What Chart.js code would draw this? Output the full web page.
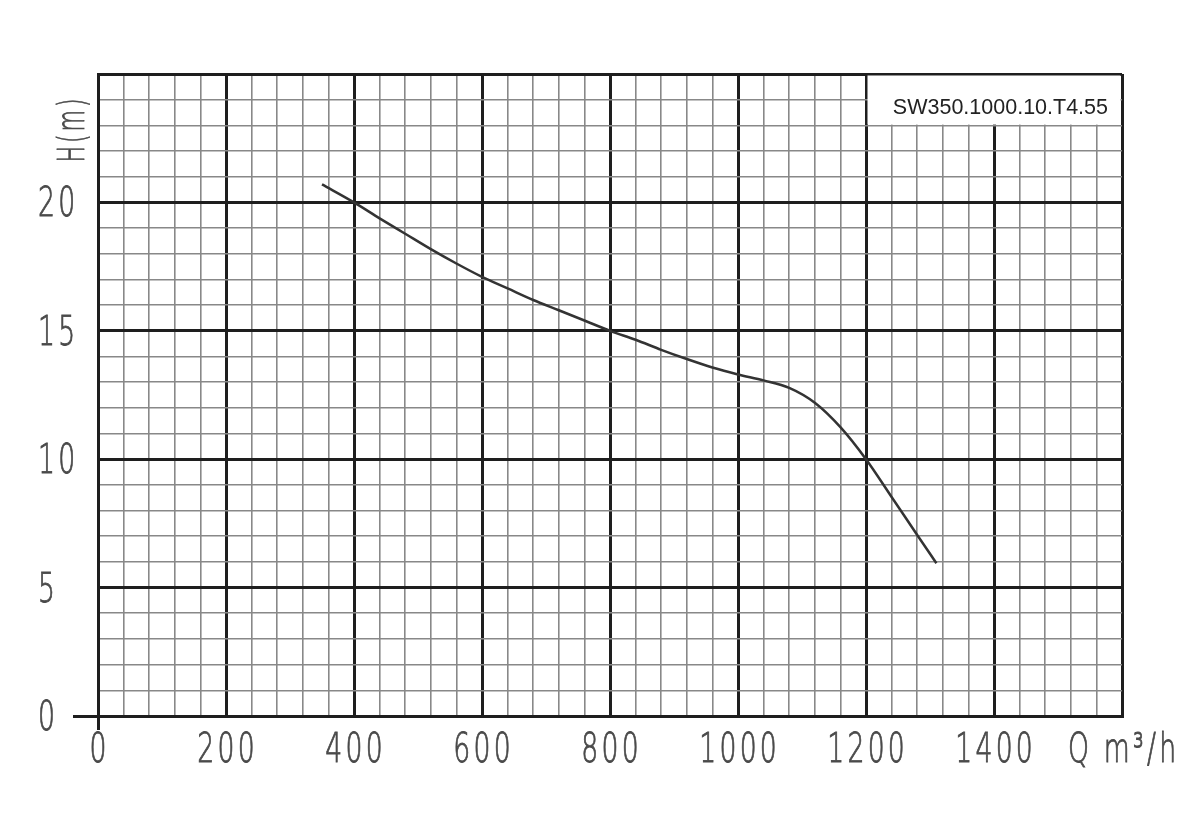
<!DOCTYPE html>
<html>
<head>
<meta charset="utf-8">
<script src="https://cdn.jsdelivr.net/npm/chart.js@4.4.0/dist/chart.umd.min.js"></script>
<style>
  html, body { margin: 0; padding: 0; background: #fff; }
  #wrap { width: 1200px; height: 832px; }
</style>
</head>
<body>
<div id="wrap"><canvas id="chart"></canvas></div>
<script>
// pump curve
const flow = [350, 400, 440, 480, 520, 560, 600, 640, 680, 720, 760, 800,
  840, 880, 920, 960, 1000, 1040, 1080, 1120, 1160, 1200, 1240, 1280, 1310];
const head = [20.7, 20.0, 19.38, 18.78, 18.18, 17.62, 17.1, 16.65, 16.2, 15.8, 15.4, 15.0,
  14.65, 14.26, 13.9, 13.57, 13.3, 13.07, 12.78, 12.2, 11.25, 10.0, 8.53, 7.05, 5.95];

const xTicks = [0, 200, 400, 600, 800, 1000, 1200, 1400];
const yTicks = [0, 5, 10, 15, 20];
const xUnit = "Q m\u00b3/h";
const yUnit = "H(m)";
const modelName = "SW350.1000.10.T4.55";

const major = "#1e1e1e";
const minor = "#888";
const labelColor = "#4a4a4a";
// thin narrow lettering like the CAD font of the drawing
const cadFont = '"DejaVu Sans", sans-serif';

function cadText(ctx, text, x, y, size, squeeze, align) {
  ctx.save();
  ctx.translate(x, y);
  ctx.scale(squeeze, 1);
  ctx.font = "200 " + size + "px " + cadFont;
  ctx.letterSpacing = "5px";
  ctx.fillStyle = labelColor;
  ctx.strokeStyle = labelColor;
  ctx.lineWidth = 0.9;
  ctx.textAlign = align;
  ctx.textBaseline = "alphabetic";
  const dx = align === "center" ? 2.5 : 0;
  ctx.fillText(text, dx, 0);
  ctx.strokeText(text, dx, 0);
  ctx.restore();
}

const notes = {
  id: "notes",
  beforeDatasetsDraw(chart) {
    const { ctx, scales: { x, y } } = chart;
    const l = x.getPixelForValue(1200);
    const r = x.getPixelForValue(1600);
    const t = y.getPixelForValue(25);
    const b = y.getPixelForValue(23);
    ctx.save();
    ctx.fillStyle = "#fff";
    ctx.fillRect(l + 1.5, t + 1.5, r - l - 3, b - t - 2.25);
    ctx.fillStyle = "#222";
    ctx.font = '21.5px "Liberation Sans", Arial, sans-serif';
    ctx.textAlign = "right";
    ctx.textBaseline = "middle";
    ctx.fillText(modelName, r - 14, (t + b) / 2 + 8);
    ctx.restore();
  },
  afterDraw(chart) {
    const { ctx, scales: { x, y } } = chart;
    x.ticks.forEach((t) => {
      if (t.label) cadText(ctx, t.label, x.getPixelForValue(t.value), x.top + 46, 41, 0.65, "center");
    });
    y.ticks.forEach((t) => {
      if (t.label) cadText(ctx, t.label, y.left, y.getPixelForValue(t.value) + 14, 41, 0.65, "left");
    });
    ctx.save();
    ctx.translate(84, y.getPixelForValue(22.8));
    ctx.rotate(-Math.PI / 2);
    cadText(ctx, yUnit, 0, 0, 38, 0.58, "center");
    ctx.restore();
  },
};

const isMajorX = (v) => v % 200 === 0;
const isMajorY = (v) => v % 5 === 0;

new Chart(document.getElementById("chart"), {
  type: "line",
  data: {
    datasets: [
      {
        data: flow.map((q, i) => ({ x: q, y: head[i] })),
        borderColor: "#333",
        borderWidth: 2.5,
        pointRadius: 0,
        tension: 0.4,
        cubicInterpolationMode: "monotone",
        fill: false,
      },
    ],
  },
  options: {
    responsive: true,
    maintainAspectRatio: false,
    animation: false,
    layout: { padding: { left: 38, top: 74, right: 78, bottom: 0 } },
    plugins: { legend: { display: false }, tooltip: { enabled: false } },
    scales: {
      x: {
        type: "linear",
        min: 0,
        max: 1600,
        afterFit: (s) => { s.height = 116; },
        ticks: {
          display: false,
          stepSize: 40,
          autoSkip: false,
          callback: (v) => (xTicks.includes(v) ? String(v) : v === 1600 ? xUnit : ""),
        },
        grid: {
          color: (c) => (isMajorX(c.tick.value) ? major : minor),
          lineWidth: (c) => (isMajorX(c.tick.value) ? 3 : 1.6),
          drawTicks: true,
          tickLength: 14,
          tickWidth: 3,
          tickColor: (c) => (c.tick.value === 0 ? major : "rgba(0,0,0,0)"),
        },
        border: { color: major, width: 3 },
      },
      y: {
        type: "linear",
        min: 0,
        max: 25,
        afterFit: (s) => { s.width = 60; },
        ticks: {
          display: false,
          stepSize: 1,
          autoSkip: false,
          callback: (v) => (yTicks.includes(v) ? String(v) : ""),
        },
        grid: {
          color: (c) => (isMajorY(c.tick.value) ? major : minor),
          lineWidth: (c) => (isMajorY(c.tick.value) ? 3 : 1.6),
          drawTicks: true,
          tickLength: 25,
          tickWidth: 3,
          tickColor: (c) => (c.tick.value === 0 ? major : "rgba(0,0,0,0)"),
        },
        border: { color: major, width: 3 },
      },
    },
  },
  plugins: [notes],
});
</script>
</body>
</html>
